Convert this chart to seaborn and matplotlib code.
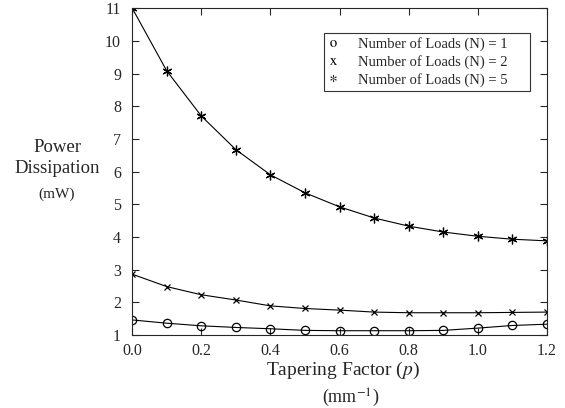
import matplotlib
matplotlib.use("Agg")
import matplotlib.pyplot as plt
import pandas as pd
import seaborn as sns
from matplotlib.lines import Line2D

# Tapering factor p (mm^-1)
P_VALUES = [0.0, 0.1, 0.2, 0.3, 0.4, 0.5, 0.6, 0.7, 0.8, 0.9, 1.0, 1.1, 1.2]
# Power dissipation (mW) per number of loads
POWER_N1 = [1.46, 1.36, 1.28, 1.23, 1.19, 1.14, 1.13, 1.13, 1.13, 1.14, 1.21, 1.29, 1.33]
POWER_N2 = [2.86, 2.48, 2.23, 2.07, 1.89, 1.81, 1.76, 1.70, 1.68, 1.68, 1.68, 1.69, 1.70]
POWER_N5 = [11.0, 9.08, 7.70, 6.67, 5.90, 5.35, 4.92, 4.58, 4.33, 4.15, 4.02, 3.93, 3.88]
LABELS = ["Number of Loads (N) = 1", "Number of Loads (N) = 2", "Number of Loads (N) = 5"]
SYMBOLS = ["o", "x", "*"]

sns.set_style("ticks")
plt.rcParams["font.family"] = ["Liberation Serif", "DejaVu Serif"]
plt.rcParams["mathtext.fontset"] = "stix"

fig = plt.figure(figsize=(5.65, 4.08), dpi=100)
ax = fig.add_axes([0.234, 0.179, 0.734, 0.801])

# marker shapes and sizes used on the curves
mk = {"o": ("o", 6), "x": ("x", 4), "*": ((6, 2, 0), 7)}
for vals, m in zip([POWER_N1, POWER_N2, POWER_N5], SYMBOLS):
    d = pd.DataFrame({"p": P_VALUES, "power": vals})
    kw = dict(markerfacecolor="none") if m == "o" else {}
    sns.lineplot(data=d, x="p", y="power", color="black", linewidth=0.8,
                 marker=mk[m][0], markersize=mk[m][1], markeredgecolor="black",
                 markeredgewidth=0.9, ax=ax, **kw)

ax.set_xlim(0, 1.2)
ax.set_ylim(1, 11)
ax.set_xticks([0.0, 0.2, 0.4, 0.6, 0.8, 1.0, 1.2])
ax.set_xticklabels(["0.0", "0.2", "0.4", "0.6", "0.8", "1.0", "1.2"])
ax.set_yticks(range(1, 12))
ax.tick_params(direction="in", top=True, right=True, labelsize=11.5, length=5, width=0.8)
ax.tick_params(axis="y", pad=8)
ax.tick_params(axis="x", pad=6)
for s in ax.spines.values():
    s.set_linewidth(0.8)
ax.set_xlabel("")
ax.set_ylabel("")

fig.text(0.101, 0.638, "Power", ha="center", va="center", fontsize=13.5)
fig.text(0.101, 0.586, "Dissipation", ha="center", va="center", fontsize=13.5)
fig.text(0.101, 0.523, "(mW)", ha="center", va="center", fontsize=11)
fig.text(0.607, 0.093, "Tapering Factor ($\\it{p}$)", ha="center", va="center", fontsize=14)
fig.text(0.62, 0.025, "(mm$^{-1}$)", ha="center", va="center", fontsize=13)

# legend shows the symbols as plain characters
handles = [Line2D([], [], linestyle="none", marker="$\\mathrm{%s}$" % s, color="black",
                  markersize=5, markeredgewidth=0) for s in SYMBOLS]
leg = ax.legend(handles, LABELS, loc="upper left", mode="expand",
                bbox_to_anchor=(0.463, 0.746, 0.496, 0.1775),
                fontsize=10.5, frameon=True, fancybox=False, edgecolor="black",
                handlelength=0.6, handletextpad=1.45, borderpad=0.3, labelspacing=0.25,
                borderaxespad=0)
leg.get_frame().set_linewidth(0.8)

fig.savefig("out.png", dpi=100)
